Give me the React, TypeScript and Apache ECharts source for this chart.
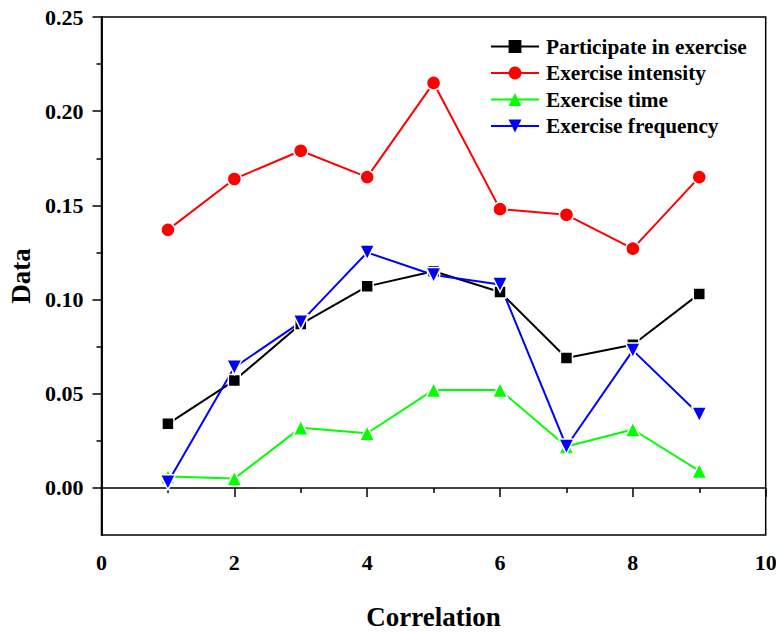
import React, { useEffect, useRef } from "react";
import * as echarts from "echarts";

const xValues = [1, 2, 3, 4, 5, 6, 7, 8, 9];
const participate = [0.034, 0.057, 0.087, 0.107, 0.115, 0.104, 0.069, 0.076, 0.103];
const intensity = [0.137, 0.164, 0.179, 0.165, 0.215, 0.148, 0.145, 0.127, 0.165];
const time = [0.006, 0.005, 0.032, 0.029, 0.052, 0.052, 0.022, 0.031, 0.009];
const frequency = [0.003, 0.064, 0.088, 0.125, 0.113, 0.108, 0.022, 0.073, 0.039];
const seriesNames = ["Participate in exercise", "Exercise intensity", "Exercise time", "Exercise frequency"];
const yMajorTicks = [0, 0.05, 0.1, 0.15, 0.2, 0.25];
const yMinorTicks = [0.025, 0.075, 0.125, 0.175, 0.225];

const FONT = "Liberation Serif, Times New Roman, serif";

export default function App() {
  const ref = useRef<HTMLDivElement>(null);
  useEffect(() => {
    if (!ref.current) return;
    const chart = echarts.init(ref.current, null, { renderer: "svg" });
    const pair = (ys: number[]) => xValues.map((x, i) => [x, ys[i]]);
    const axisLine = { show: true, lineStyle: { color: "#000", width: 1.5 } };
    const mk = (
      name: string,
      data: number[],
      color: string,
      symbol: string,
      size: number,
      rotate = 0
    ) => ({
      name,
      type: "line",
      data: pair(data),
      symbol,
      symbolSize: size,
      symbolRotate: rotate,
      showAllSymbol: true,
      lineStyle: { color, width: 2 },
      itemStyle: { color, borderColor: "#fff", borderWidth: 1.5 },
      z: 3,
    });
    chart.setOption({
      animation: false,
      backgroundColor: "#fff",
      textStyle: { fontFamily: FONT },
      grid: {
        left: 101.5,
        right: 10.3,
        top: 17,
        bottom: 97,
        containLabel: false,
        outerBoundsMode: "none",
        show: true,
        borderColor: "#000",
        borderWidth: 1.5,
        backgroundColor: "transparent",
      },
      legend: {
        orient: "vertical",
        left: 490,
        top: 36,
        padding: 0,
        itemWidth: 48,
        itemHeight: 16,
        itemGap: 5.5,
        data: seriesNames,
        itemStyle: { borderWidth: 0 },
        textStyle: {
          fontFamily: FONT,
          fontSize: 21.3,
          fontWeight: "bold",
          color: "#000",
          lineHeight: 20,
          padding: [0, 0, 0, 2],
        },
      },
      xAxis: {
        type: "value",
        min: 0,
        max: 10,
        interval: 2,
        name: "Correlation",
        nameLocation: "middle",
        nameGap: 68,
        nameTextStyle: { fontFamily: FONT, fontSize: 27, fontWeight: "bold", color: "#000" },
        axisLine,
        axisTick: { show: true, inside: false, length: 9, lineStyle: { color: "#000", width: 1.5 } },
        minorTick: { show: true, splitNumber: 2, length: 5, lineStyle: { color: "#000", width: 1.5 } },
        splitLine: { show: false },
        minorSplitLine: { show: false },
        axisLabel: {
          fontFamily: FONT,
          fontSize: 22,
          fontWeight: "bold",
          color: "#000",
          margin: 16,
        },
      },
      yAxis: [
        {
          type: "value",
          min: -0.025,
          max: 0.25,
          name: "Data",
          nameLocation: "middle",
          nameGap: 66,
          nameTextStyle: { fontFamily: FONT, fontSize: 27, fontWeight: "bold", color: "#000" },
          axisLine,
          axisTick: {
            show: true,
            inside: false,
            length: 9,
            customValues: yMajorTicks,
            lineStyle: { color: "#000", width: 1.5 },
          },
          splitLine: { show: false },
          axisLabel: {
            customValues: yMajorTicks,
            formatter: (v: number) => v.toFixed(2),
            fontFamily: FONT,
            fontSize: 22,
            fontWeight: "bold",
            color: "#000",
            margin: 18,
          },
        },
        {
          type: "value",
          min: -0.025,
          max: 0.25,
          position: "left",
          axisLine,
          axisTick: {
            show: true,
            inside: false,
            length: 5,
            customValues: yMinorTicks,
            lineStyle: { color: "#000", width: 1.5 },
          },
          axisLabel: { show: false },
          splitLine: { show: false },
        },
      ],
      series: [
        mk(seriesNames[0], participate, "#000000", "rect", 12),
        mk(seriesNames[1], intensity, "#ff0000", "circle", 14),
        mk(seriesNames[2], time, "#00ff00", "triangle", 15),
        mk(seriesNames[3], frequency, "#0000ff", "triangle", 15, 180),
      ],
    });
    return () => chart.dispose();
  }, []);
  return (
    <div
      ref={ref}
      style={{ position: "fixed", left: 0, top: 0, width: 776, height: 632, background: "#fff" }}
    />
  );
}
